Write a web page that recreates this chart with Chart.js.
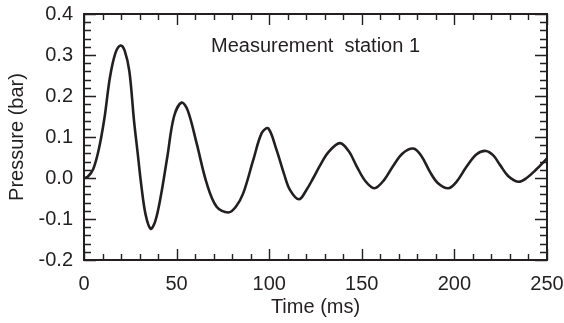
<!DOCTYPE html>
<html>
<head>
<meta charset="utf-8">
<script src="https://cdn.jsdelivr.net/npm/chart.js@4"></script>
<style>
	html, body { margin: 0; padding: 0; background: #fff; }
	canvas { display: block; }
</style>
</head>
<body>
<canvas id="chart" width="564" height="323"></canvas>
<script>
'use strict';

// values
var times = [0, 2, 5, 8, 11, 14, 17, 19.8, 22, 24.5, 27, 29, 31, 33.3, 36, 38.5, 41.4, 45, 48.6, 52.7,
	56, 60.8, 66.2, 71.6, 77.9, 82, 86, 91.4, 96, 99.5, 104, 108, 111.2, 116.1, 120, 123.8, 127.4,
	132, 138.2, 143, 147.3, 152, 156.8, 162, 167, 172, 177.8, 182, 186.8, 191, 196.7, 201, 206.6,
	212, 217, 221, 224.6, 229, 234.5, 239, 244, 250];
var pressures = [0.0, 0.003, 0.022, 0.07, 0.145, 0.245, 0.305, 0.323, 0.31, 0.26, 0.14, 0.06, -0.02, -0.09, -0.124, -0.105, -0.046, 0.052, 0.15, 0.184,
	0.165, 0.085, -0.012, -0.07, -0.084, -0.07, -0.037, 0.044, 0.11, 0.121, 0.068, 0.01, -0.029, -0.052, -0.03, 0.0, 0.03,
	0.063, 0.085, 0.065, 0.028, -0.008, -0.025, -0.005, 0.03, 0.06, 0.072, 0.055, 0.015, -0.012, -0.025, -0.01, 0.028,
	0.058, 0.066, 0.055, 0.032, 0.005, -0.009, 0.0, 0.02, 0.048];

var xRange = [0, 250];
var yRange = [-0.2, 0.4];
var xMajorStep = 50, xMinorStep = 10;
var yMajorStep = 0.1, yMinorStep = 0.02;
var xTitle = 'Time (ms)';
var yTitle = 'Pressure (bar)';
var note = 'Measurement  station 1';
var notePos = [68.6, 0.32];

var ink = '#231f20';
var font = '"Liberation Sans", Arial, sans-serif';
var fontSize = 20;

function drawTicks(ctx, scale, step, major, isX, area, len) {
	var n = Math.round((scale.max - scale.min) / step);
	var i, v, p, l, r;
	for (i = 0; i <= n; i++) {
		v = scale.min + i * step;
		p = Math.round(scale.getPixelForValue(v)) + 0.5;
		r = v / major;
		l = Math.abs(r - Math.round(r)) < 1e-6 ? len[0] : len[1];
		ctx.beginPath();
		if (isX) {
			ctx.moveTo(p, area.bottom); ctx.lineTo(p, area.bottom - l);
			ctx.moveTo(p, area.top); ctx.lineTo(p, area.top + l);
		} else {
			ctx.moveTo(area.left, p); ctx.lineTo(area.left + l, p);
			ctx.moveTo(area.right, p); ctx.lineTo(area.right - l, p);
		}
		ctx.stroke();
	}
}

var framePlugin = {
	id: 'frame',
	afterDatasetsDraw: function(chart) {
		var ctx = chart.ctx;
		var area = chart.chartArea;
		ctx.save();
		ctx.strokeStyle = ink;
		ctx.lineWidth = 1.4;
		drawTicks(ctx, chart.scales.x, xMinorStep, xMajorStep, true, area, [11, 6]);
		drawTicks(ctx, chart.scales.y, yMinorStep, yMajorStep, false, area, [12, 7]);
		ctx.lineWidth = 2;
		ctx.strokeRect(area.left, area.top, area.right - area.left, area.bottom - area.top);

		ctx.fillStyle = ink;
		ctx.font = fontSize + 'px ' + font;
		ctx.textAlign = 'left';
		ctx.textBaseline = 'middle';
		ctx.fillText(note, chart.scales.x.getPixelForValue(notePos[0]), chart.scales.y.getPixelForValue(notePos[1]));
		ctx.restore();
	}
};

var ctx = document.getElementById('chart').getContext('2d');
new Chart(ctx, {
	type: 'line',
	data: {
		datasets: [{
			data: times.map(function(t, i) { return {x: t, y: pressures[i]}; }),
			borderColor: ink,
			borderWidth: 2.6,
			pointRadius: 0,
			fill: false,
			tension: 0.35
		}]
	},
	options: {
		responsive: false,
		animation: false,
		layout: {padding: {left: 0, top: 14, right: 17, bottom: 0}},
		plugins: {legend: {display: false}, tooltip: {enabled: false}},
		scales: {
			x: {
				type: 'linear',
				min: xRange[0],
				max: xRange[1],
				grid: {display: false, drawTicks: false},
				border: {display: false},
				ticks: {stepSize: xMajorStep, padding: 12, color: ink, font: {family: font, size: fontSize}, maxRotation: 0},
				title: {display: true, text: xTitle, color: ink, font: {family: font, size: fontSize}, padding: {top: 0, bottom: 4}},
				afterFit: function(scale) {
					scale.height = 63;
					scale.paddingLeft = 0;
					scale.paddingRight = 0;
				}
			},
			y: {
				min: yRange[0],
				max: yRange[1],
				grid: {display: false, drawTicks: false},
				border: {display: false},
				ticks: {
					stepSize: yMajorStep, padding: 11, color: ink, font: {family: font, size: fontSize},
					callback: function(v) { return v.toFixed(1); }
				},
				title: {display: true, text: yTitle, color: ink, font: {family: font, size: fontSize}, padding: {top: 5, bottom: 0}},
				afterFit: function(scale) {
					scale.width = 84;
					scale.paddingTop = 0;
					scale.paddingBottom = 0;
				}
			}
		}
	},
	plugins: [framePlugin]
});
</script>
</body>
</html>
